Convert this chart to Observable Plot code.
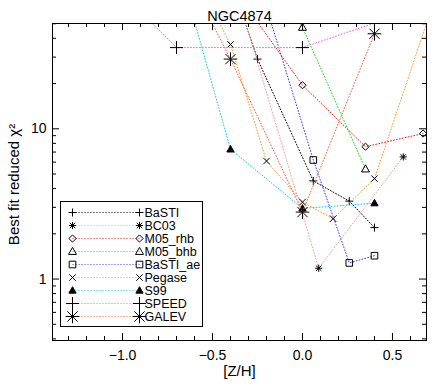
<!DOCTYPE html>
<html><head><meta charset="utf-8">
<script src="https://cdn.jsdelivr.net/npm/d3@7"></script>
<script src="https://cdn.jsdelivr.net/npm/@observablehq/plot@0.6"></script>
<style>
body{margin:0;background:#fff;}
#wrap{position:relative;width:436px;height:387px;}
#wrap svg{display:block;}
#legend{position:absolute;left:60px;top:201px;}
#legend svg{border:1px solid #000;background:#fff;}
</style></head><body><div id="wrap"><div id="chart"></div><div id="legend"></div></div>
<script>
const title = "NGC4874";
const xLabel = "[Z/H]";
const yLabel = "Best fit reduced χ²";

const seriesNames  = ["BaSTI","BC03","M05_rhb","M05_bhb","BaSTI_ae","Pegase","S99","SPEED","GALEV"];
const seriesColors = ["#000000","#ff9a9a","#ee2020","#20dd20","#4040ff","#ff9a30","#20c8f0","#f060f0","#f06a45"];

const zhBaSTI   = [-0.35, -0.25, 0.06, 0.26, 0.40];
const chiBaSTI  = [66, 29.1, 4.5, 3.3, 2.2];
const zhBC03    = [-0.33, 0.09, 0.56];
const chiBC03   = [58, 1.18, 6.5];
const zhM05rhb  = [-0.33, 0.0, 0.35, 0.67];
const chiM05rhb = [70, 19.5, 7.6, 9.3];
const zhM05bhb  = [-0.33, 0.0, 0.35];
const chiM05bhb = [200, 47.3, 5.4];
const zhBaSTIae = [-0.25, 0.06, 0.26, 0.40];
const chiBaSTIae= [100, 6.2, 1.28, 1.43];
const zhPegase  = [-0.7, -0.4, -0.2, 0.0, 0.17, 0.4, 0.7];
const chiPegase = [180, 36.4, 6.1, 3.25, 2.52, 4.66, 55];
const zhS99     = [-0.7, -0.4, 0.0, 0.4];
const chiS99    = [138, 7.3, 2.95, 3.2];
const zhSPEED   = [-1.0, -0.7, 0.0, 0.4];
const chiSPEED  = [79, 34.7, 34.7, 50.6];
const zhGALEV   = [-0.7, -0.4, 0.0, 0.4];
const chiGALEV  = [146, 29.1, 2.79, 42.9];

const xMajorTicks = [-1.0, -0.5, 0.0, 0.5];
const xMinorTicks = [-1.3,-1.2,-1.1,-0.9,-0.8,-0.7,-0.6,-0.4,-0.3,-0.2,-0.1,0.1,0.2,0.3,0.4,0.6];
const yMajorTicks = [1, 10];
const yMinorTicks = [0.4,0.5,0.6,0.7,0.8,0.9,2,3,4,5,6,7,8,9,20,30,40,50];

const zhAll  = [zhBaSTI, zhBC03, zhM05rhb, zhM05bhb, zhBaSTIae, zhPegase, zhS99, zhSPEED, zhGALEV];
const chiAll = [chiBaSTI, chiBC03, chiM05rhb, chiM05bhb, chiBaSTIae, chiPegase, chiS99, chiSPEED, chiGALEV];

// marker symbols (custom so that r equals the half-size in pixels)
function sym(fn){ return {draw(c, size){ const r = Math.sqrt(size/Math.PI); fn(c, r); }}; }
const plusSym = sym((c,r)=>{c.moveTo(-r,0);c.lineTo(r,0);c.moveTo(0,-r);c.lineTo(0,r);});
const timesSym = sym((c,r)=>{const a=r*0.85;c.moveTo(-a,-a);c.lineTo(a,a);c.moveTo(-a,a);c.lineTo(a,-a);});
const astSym = sym((c,r)=>{const a=r*0.75;c.moveTo(-r,0);c.lineTo(r,0);c.moveTo(0,-r);c.lineTo(0,r);c.moveTo(-a,-a);c.lineTo(a,a);c.moveTo(-a,a);c.lineTo(a,-a);});
const diamondSym = sym((c,r)=>{c.moveTo(0,-r);c.lineTo(r,0);c.lineTo(0,r);c.lineTo(-r,0);c.closePath();});
const triSym = sym((c,r)=>{c.moveTo(0,-r);c.lineTo(r*0.95,r*0.7);c.lineTo(-r*0.95,r*0.7);c.closePath();});
const squareSym = sym((c,r)=>{c.rect(-r,-r,2*r,2*r);});

const markerStyle = [
  {symbol: plusSym, r: 4, fill: "none"},
  {symbol: astSym, r: 3.6, fill: "none"},
  {symbol: diamondSym, r: 3.6, fill: "none"},
  {symbol: triSym, r: 4.2, fill: "none"},
  {symbol: squareSym, r: 3.3, fill: "none"},
  {symbol: timesSym, r: 3.8, fill: "none"},
  {symbol: triSym, r: 3.8, fill: "black"},
  {symbol: plusSym, r: 6.5, fill: "none"},
  {symbol: astSym, r: 6.8, fill: "none"}
];

const W = 436, H = 387, mT = 23, mB = 47, mL = 52, mR = 10;
const pW = W - mL - mR, pH = H - mT - mB;
const font = "'Liberation Sans', Arial, sans-serif";

const marks = [];
seriesNames.forEach((name, i) => {
  const rows = zhAll[i].map((z, j) => ({name, zh: z, chi: chiAll[i][j]}));
  marks.push(Plot.line(rows, {x: "zh", y: "chi", stroke: seriesColors[i], strokeWidth: 1, strokeDasharray: "1,2", clip: true}));
  marks.push(Plot.dot(rows, {x: "zh", y: "chi", symbol: markerStyle[i].symbol, r: markerStyle[i].r,
    fill: markerStyle[i].fill, stroke: "black", strokeWidth: 1, clip: true}));
});

const chart = Plot.plot({
  width: W, height: H,
  marginTop: mT, marginBottom: mB, marginLeft: mL, marginRight: mR,
  style: {fontFamily: font, background: "white", color: "black"},
  x: {domain: [-1.389, 0.689]},
  y: {type: "log", domain: [0.39, 50.2]},
  marks: [
    ...marks,
    Plot.frame({stroke: "black"}),
    Plot.ruleX(xMajorTicks, {insetTop: pH - 7, stroke: "black"}),
    Plot.ruleX(xMajorTicks, {insetBottom: pH - 7, stroke: "black"}),
    Plot.ruleX(xMinorTicks, {insetTop: pH - 4, stroke: "black"}),
    Plot.ruleX(xMinorTicks, {insetBottom: pH - 4, stroke: "black"}),
    Plot.ruleY(yMajorTicks, {insetRight: pW - 7, stroke: "black"}),
    Plot.ruleY(yMajorTicks, {insetLeft: pW - 7, stroke: "black"}),
    Plot.ruleY(yMinorTicks, {insetRight: pW - 4, stroke: "black"}),
    Plot.ruleY(yMinorTicks, {insetLeft: pW - 4, stroke: "black"}),
    Plot.axisX(xMajorTicks, {tickSize: 0, tickPadding: 10, tickFormat: d3.format(".1f"), fontSize: 14, label: null}),
    Plot.axisY(yMajorTicks, {tickSize: 0, tickPadding: 6, tickFormat: d => String(d), fontSize: 14, label: null}),
    Plot.text([title], {frameAnchor: "top", dy: -13, fontSize: 14.5, text: d => d}),
    Plot.text([xLabel], {frameAnchor: "bottom", dy: 35, fontSize: 15, text: d => d, ariaLabel: "xlabel"}),
    Plot.text([yLabel], {frameAnchor: "left", textAnchor: "middle", rotate: -90, dx: -38, dy: 2.5, fontSize: 15, text: d => d, ariaLabel: "ylabel"})
  ]
});
document.getElementById("chart").appendChild(chart);
{
  const yl = chart.querySelector('text[aria-label="ylabel"]') || chart.querySelector('[aria-label="ylabel"] text');
  if (yl) yl.setAttribute("letter-spacing", "2.4px");
  const xl = chart.querySelector('text[aria-label="xlabel"]') || chart.querySelector('[aria-label="xlabel"] text');
  if (xl) xl.setAttribute("letter-spacing", "1px");
}

// legend
const LW = 141, LH = 124;
const legendRows = seriesNames.map((name, i) => ({name, i}));
const legendMarks = [
  Plot.link(legendRows, {x1: 11, x2: 78, y1: "name", y2: "name", stroke: d => seriesColors[d.i], strokeDasharray: "1,2", strokeWidth: 1})
];
seriesNames.forEach((name, i) => {
  const ends = [{name, x: 11}, {name, x: 78}];
  legendMarks.push(Plot.dot(ends, {x: "x", y: "name", symbol: markerStyle[i].symbol, r: markerStyle[i].r,
    fill: markerStyle[i].fill, stroke: "black", strokeWidth: 1}));
});
legendMarks.push(Plot.text(seriesNames, {x: 83, y: d => d, text: d => d, textAnchor: "start", fontSize: 12.5}));
const legend = Plot.plot({
  width: LW, height: LH, margin: 0,
  style: {fontFamily: font, background: "white", color: "black"},
  x: {domain: [0, LW], range: [0, LW], axis: null},
  y: {type: "point", domain: seriesNames, range: [9, 115], padding: 0, axis: null},
  stroke: {type: "identity"},
  marks: legendMarks
});
document.getElementById("legend").appendChild(legend);
</script></body></html>
